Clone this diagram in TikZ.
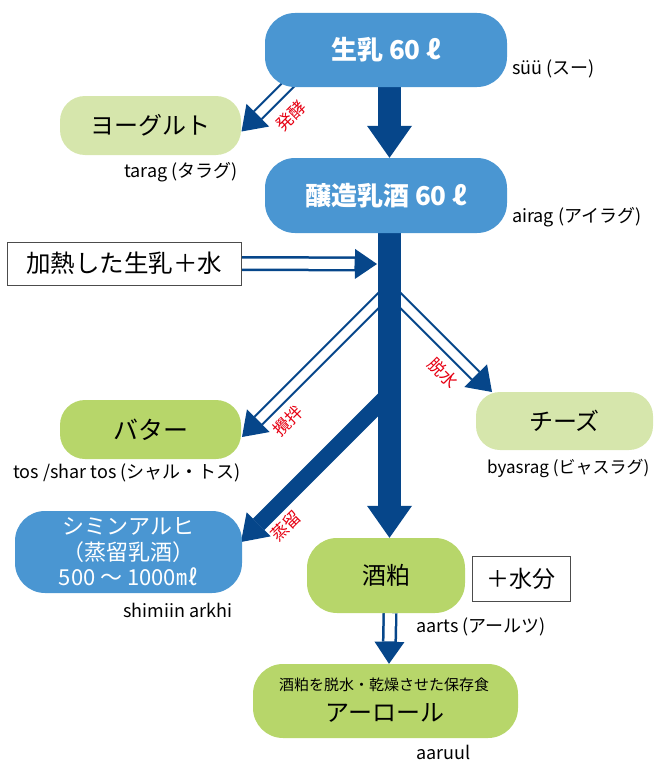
\documentclass[tikz,border=0pt]{standalone}
\usepackage{fontspec}
\setmainfont{Noto Sans CJK JP}
\usetikzlibrary{arrows.meta}
\definecolor{dblue}{RGB}{6,70,138}
\definecolor{lblue}{RGB}{74,150,210}
\definecolor{pgreen}{RGB}{214,230,172}
\definecolor{sgreen}{RGB}{183,214,106}
\definecolor{lred}{RGB}{230,0,18}
\pgfdeclarelayer{back}
\pgfsetlayers{back,main}
\begin{document}
\begin{tikzpicture}[x=1pt,y=-1pt,
  box/.style={rounded corners=#1, inner sep=0pt, align=center},
  bluebox/.style={box=30pt, fill=lblue, text=white},
  pbox/.style={box=25pt, fill=pgreen, text=black},
  gbox/.style={box=28pt, fill=sgreen, text=black},
  wbox/.style={draw=black!70, line width=1pt, fill=white, inner sep=0pt},
  lbl/.style={anchor=west, inner sep=0pt, font=\fontsize{18}{20}\selectfont},
  redlbl/.style={text=lred, inner sep=0pt, font=\fontsize{17}{19}\selectfont},
  bigarrow/.style={draw=dblue, line width=23pt, -{Triangle[length=32pt,width=45pt,line width=0pt]}},
  midarrow/.style={draw=dblue, line width=16pt, -{Triangle[length=25pt,width=34pt,line width=0pt]}},
  hollow/.style={draw=dblue, line width=13pt, -{Triangle[length=23pt,width=32pt,line width=0pt]},
    postaction={draw=white, line width=8.5pt, shorten >=23.5pt, -}},
  hollowhv/.style={draw=dblue, line width=15pt, -{Triangle[length=22pt,width=30pt,line width=0pt]},
    postaction={draw=white, line width=10pt, shorten >=22.5pt, -}},
]
\useasboundingbox (0,0) rectangle (654,760);

% boxes
\node[bluebox, minimum width=242pt, minimum height=74pt, font=\fontsize{26}{30}\selectfont\bfseries] (milk) at (386,50) {生乳 60 ℓ};
\node[bluebox, minimum width=242pt, minimum height=75pt, font=\fontsize{26}{30}\selectfont\bfseries] (airag) at (386,195.5) {醸造乳酒 60 ℓ};
\node[pbox, minimum width=181pt, minimum height=59pt, font=\fontsize{24}{28}\selectfont] (yog) at (150.5,125.5) {ヨーグルト};
\node[wbox, minimum width=234pt, minimum height=43pt, font=\fontsize{24.5}{28}\selectfont] (heat) at (124,263.5) {加熱した生乳＋水};
\node[gbox, box=25pt, minimum width=181pt, minimum height=59pt, font=\fontsize{25}{29}\selectfont] (butter) at (150.5,429.5) {バター};
\node[pbox, box=24pt, minimum width=177pt, minimum height=58pt, font=\fontsize{24}{28}\selectfont] (cheese) at (564.5,421) {チーズ};
\node[bluebox, minimum width=227pt, minimum height=82pt, font=\fontsize{22}{25.5}\selectfont] (arkhi) at (128.5,552) {シミンアルヒ\\（蒸留乳酒）\\500 ～ 1000㎖};
\node[gbox, box=30pt, minimum width=158pt, minimum height=75pt, font=\fontsize{24}{28}\selectfont] (sake) at (386,575.5) {酒粕};
\node[wbox, minimum width=98pt, minimum height=45pt, font=\fontsize{23}{27}\selectfont] (water) at (521,578.5) {＋水分};
\node[gbox, box=30pt, minimum width=265pt, minimum height=74pt] (aaruul) at (385.5,701) {};
\node[inner sep=0pt, font=\fontsize{15}{18}\selectfont] (aaruul1) at (384,685) {酒粕を脱水・乾燥させた保存食};
\node[inner sep=0pt, font=\fontsize{24}{28}\selectfont] (aaruul2) at (385,713) {アーロール};

% labels
\node[lbl] (l1) at (512,69) {süü (スー)};
\node[lbl] (l2) at (512,217) {airag (アイラグ)};
\node[lbl] (l3) at (124,172) {tarag (タラグ)};
\node[lbl] (l4) at (13,473) {tos /shar tos (シャル・トス)};
\node[lbl, font=\fontsize{17}{19}\selectfont] (l5) at (487,468) {byasrag (ビャスラグ)};
\node[lbl] (l6) at (123,610) {shimiin arkhi};
\node[lbl] (l7) at (416,627) {aarts (アールツ)};
\node[lbl] (l8) at (416,752) {aaruul};

% red labels
\node[redlbl, rotate=45] (r1) at (291,116) {発酵};
\node[redlbl, rotate=45] (r2) at (288,421) {攪拌};
\node[redlbl, rotate=-45] (r3) at (443,373) {脱水};
\node[redlbl, rotate=45] (r4) at (286,526) {蒸留};

% connector coordinates
\coordinate (fstart) at (300,73);
\coordinate (fork) at (389.5,289.5);
\coordinate (fork2) at (389.5,393.5);
\coordinate (ytip) at (241.5,131.5);
\coordinate (btip) at (242,437);
\coordinate (ctip) at (492,392);
\coordinate (atip) at (241,542);
\coordinate (htip) at (377,264);

\begin{pgfonlayer}{back}
\draw[hollow] (fstart) -- (ytip);
\draw[hollow] (fork) -- (btip);
\draw[hollow] (fork) -- (ctip);
\draw[midarrow] (fork2) -- (atip);
\draw[bigarrow] ([xshift=3.5pt]milk.south) -- ([xshift=3.5pt]airag.north);
\draw[bigarrow] ([xshift=3.5pt]airag.south) -- ([xshift=3.5pt]sake.north);
\draw[hollowhv] (heat.east) -- (htip);
\draw[hollowhv] ([xshift=4pt]sake.south) -- ([xshift=3.5pt]aaruul.north);
\end{pgfonlayer}
\end{tikzpicture}
\end{document}
